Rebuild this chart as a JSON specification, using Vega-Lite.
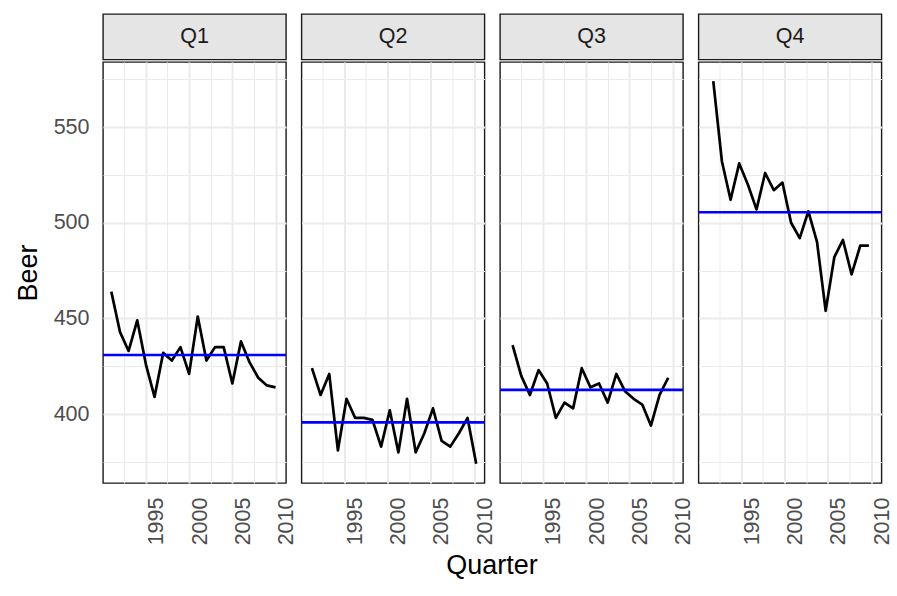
{
  "$schema": "https://vega.github.io/schema/vega-lite/v6.json",
  "padding": {"left": 14, "top": 13, "right": 5, "bottom": 5},
  "background": "white",
  "config": {
    "font": "Liberation Sans",
    "view": {"stroke": "#1A1A1A", "strokeWidth": 1.4},
    "axis": {
      "labelFont": "Liberation Sans",
      "labelFontSize": 21.5,
      "labelColor": "#4D4D4D",
      "titleFont": "Liberation Sans",
      "titleFontSize": 27,
      "titleFontWeight": "normal",
      "titleColor": "#000000",
      "ticks": false,
      "domain": false,
      "gridColor": "#EBEBEB"
    },
    "header": {
      "titleFont": "Liberation Sans",
      "titleFontSize": 27,
      "titleFontWeight": "normal",
      "titleColor": "#000000",
      "labelPadding": 0
    }
  },
  "datasets": {
    "strips": [{"q": "Q1"}, {"q": "Q2"}, {"q": "Q3"}, {"q": "Q4"}],
    "beer": [
      {"Quarter": "1991-01-01", "q": "Q1", "Beer": 464},
      {"Quarter": "1992-01-01", "q": "Q1", "Beer": 443},
      {"Quarter": "1993-01-01", "q": "Q1", "Beer": 433},
      {"Quarter": "1994-01-01", "q": "Q1", "Beer": 449},
      {"Quarter": "1995-01-01", "q": "Q1", "Beer": 426},
      {"Quarter": "1996-01-01", "q": "Q1", "Beer": 409},
      {"Quarter": "1997-01-01", "q": "Q1", "Beer": 432},
      {"Quarter": "1998-01-01", "q": "Q1", "Beer": 428},
      {"Quarter": "1999-01-01", "q": "Q1", "Beer": 435},
      {"Quarter": "2000-01-01", "q": "Q1", "Beer": 421},
      {"Quarter": "2001-01-01", "q": "Q1", "Beer": 451},
      {"Quarter": "2002-01-01", "q": "Q1", "Beer": 428},
      {"Quarter": "2003-01-01", "q": "Q1", "Beer": 435},
      {"Quarter": "2004-01-01", "q": "Q1", "Beer": 435},
      {"Quarter": "2005-01-01", "q": "Q1", "Beer": 416},
      {"Quarter": "2006-01-01", "q": "Q1", "Beer": 438},
      {"Quarter": "2007-01-01", "q": "Q1", "Beer": 427},
      {"Quarter": "2008-01-01", "q": "Q1", "Beer": 419},
      {"Quarter": "2009-01-01", "q": "Q1", "Beer": 415},
      {"Quarter": "2010-01-01", "q": "Q1", "Beer": 414},
      {"Quarter": "1991-04-01", "q": "Q2", "Beer": 424},
      {"Quarter": "1992-04-01", "q": "Q2", "Beer": 410},
      {"Quarter": "1993-04-01", "q": "Q2", "Beer": 421},
      {"Quarter": "1994-04-01", "q": "Q2", "Beer": 381},
      {"Quarter": "1995-04-01", "q": "Q2", "Beer": 408},
      {"Quarter": "1996-04-01", "q": "Q2", "Beer": 398},
      {"Quarter": "1997-04-01", "q": "Q2", "Beer": 398},
      {"Quarter": "1998-04-01", "q": "Q2", "Beer": 397},
      {"Quarter": "1999-04-01", "q": "Q2", "Beer": 383},
      {"Quarter": "2000-04-01", "q": "Q2", "Beer": 402},
      {"Quarter": "2001-04-01", "q": "Q2", "Beer": 380},
      {"Quarter": "2002-04-01", "q": "Q2", "Beer": 408},
      {"Quarter": "2003-04-01", "q": "Q2", "Beer": 380},
      {"Quarter": "2004-04-01", "q": "Q2", "Beer": 390},
      {"Quarter": "2005-04-01", "q": "Q2", "Beer": 403},
      {"Quarter": "2006-04-01", "q": "Q2", "Beer": 386},
      {"Quarter": "2007-04-01", "q": "Q2", "Beer": 383},
      {"Quarter": "2008-04-01", "q": "Q2", "Beer": 390},
      {"Quarter": "2009-04-01", "q": "Q2", "Beer": 398},
      {"Quarter": "2010-04-01", "q": "Q2", "Beer": 374},
      {"Quarter": "1991-07-01", "q": "Q3", "Beer": 436},
      {"Quarter": "1992-07-01", "q": "Q3", "Beer": 420},
      {"Quarter": "1993-07-01", "q": "Q3", "Beer": 410},
      {"Quarter": "1994-07-01", "q": "Q3", "Beer": 423},
      {"Quarter": "1995-07-01", "q": "Q3", "Beer": 416},
      {"Quarter": "1996-07-01", "q": "Q3", "Beer": 398},
      {"Quarter": "1997-07-01", "q": "Q3", "Beer": 406},
      {"Quarter": "1998-07-01", "q": "Q3", "Beer": 403},
      {"Quarter": "1999-07-01", "q": "Q3", "Beer": 424},
      {"Quarter": "2000-07-01", "q": "Q3", "Beer": 414},
      {"Quarter": "2001-07-01", "q": "Q3", "Beer": 416},
      {"Quarter": "2002-07-01", "q": "Q3", "Beer": 406},
      {"Quarter": "2003-07-01", "q": "Q3", "Beer": 421},
      {"Quarter": "2004-07-01", "q": "Q3", "Beer": 412},
      {"Quarter": "2005-07-01", "q": "Q3", "Beer": 408},
      {"Quarter": "2006-07-01", "q": "Q3", "Beer": 405},
      {"Quarter": "2007-07-01", "q": "Q3", "Beer": 394},
      {"Quarter": "2008-07-01", "q": "Q3", "Beer": 410},
      {"Quarter": "2009-07-01", "q": "Q3", "Beer": 419},
      {"Quarter": "1991-10-01", "q": "Q4", "Beer": 574},
      {"Quarter": "1992-10-01", "q": "Q4", "Beer": 532},
      {"Quarter": "1993-10-01", "q": "Q4", "Beer": 512},
      {"Quarter": "1994-10-01", "q": "Q4", "Beer": 531},
      {"Quarter": "1995-10-01", "q": "Q4", "Beer": 520},
      {"Quarter": "1996-10-01", "q": "Q4", "Beer": 507},
      {"Quarter": "1997-10-01", "q": "Q4", "Beer": 526},
      {"Quarter": "1998-10-01", "q": "Q4", "Beer": 517},
      {"Quarter": "1999-10-01", "q": "Q4", "Beer": 521},
      {"Quarter": "2000-10-01", "q": "Q4", "Beer": 500},
      {"Quarter": "2001-10-01", "q": "Q4", "Beer": 492},
      {"Quarter": "2002-10-01", "q": "Q4", "Beer": 506},
      {"Quarter": "2003-10-01", "q": "Q4", "Beer": 490},
      {"Quarter": "2004-10-01", "q": "Q4", "Beer": 454},
      {"Quarter": "2005-10-01", "q": "Q4", "Beer": 482},
      {"Quarter": "2006-10-01", "q": "Q4", "Beer": 491},
      {"Quarter": "2007-10-01", "q": "Q4", "Beer": 473},
      {"Quarter": "2008-10-01", "q": "Q4", "Beer": 488},
      {"Quarter": "2009-10-01", "q": "Q4", "Beer": 488}
    ]
  },
  "spacing": 0,
  "vconcat": [
    {
      "data": {"name": "strips"},
      "bounds": "flush",
      "facet": {"column": {"field": "q", "type": "nominal", "header": {"labels": false, "title": null, "labelOrient": "top"}}},
      "spacing": 15.5,
      "spec": {
        "width": 183,
        "height": 45.5,
        "view": {"fill": "#E5E5E5", "stroke": "#1A1A1A", "strokeWidth": 1.4},
        "mark": {"type": "text", "fontSize": 21.5, "color": "#1A1A1A", "font": "Liberation Sans"},
        "encoding": {"text": {"field": "q", "type": "nominal"}}
      }
    },
    {
      "data": {"name": "beer"},
      "bounds": "flush",
      "facet": {
        "column": {
          "field": "q",
          "type": "nominal",
          "title": "Quarter",
          "header": {"labels": false, "labelOrient": "bottom", "title": "Quarter", "titleOrient": "bottom", "titlePadding": -2}
        }
      },
      "spacing": 15.5,
      "spec": {
        "width": 183,
        "height": 421,
        "layer": [
          {
            "mark": {"type": "line", "color": "#000000", "strokeWidth": 2.7, "strokeJoin": "round"},
            "encoding": {
              "x": {
                "field": "Quarter",
                "type": "temporal",
                "title": null,
                "scale": {
                  "type": "utc",
                  "domain": [
                    {"year": 1990, "month": 1, "date": 15, "utc": true},
                    {"year": 2011, "month": 3, "date": 18, "utc": true}
                  ]
                },
                "axis": {
                  "values": [
                    {"year": 1992, "month": 7, "date": 2, "utc": true},
                    {"year": 1995, "month": 1, "date": 1, "utc": true},
                    {"year": 1997, "month": 7, "date": 2, "utc": true},
                    {"year": 2000, "month": 1, "date": 1, "utc": true},
                    {"year": 2002, "month": 7, "date": 2, "utc": true},
                    {"year": 2005, "month": 1, "date": 1, "utc": true},
                    {"year": 2007, "month": 7, "date": 2, "utc": true},
                    {"year": 2010, "month": 1, "date": 1, "utc": true}
                  ],
                  "labelExpr": "utcmonth(datum.value) == 0 ? utcFormat(datum.value, '%Y') : ''",
                  "labelAngle": 270,
                  "labelAlign": "right",
                  "labelBaseline": "top",
                  "labelPadding": 14,
                  "labelOverlap": false,
                  "gridWidth": {"condition": {"test": "utcmonth(datum.value) == 0", "value": 2}, "value": 1}
                }
              },
              "y": {
                "field": "Beer",
                "type": "quantitative",
                "title": "Beer",
                "scale": {"domain": [364, 584], "nice": false, "zero": false},
                "axis": {
                  "values": [375, 400, 425, 450, 475, 500, 525, 550, 575],
                  "labelExpr": "datum.value % 50 == 0 ? datum.label : ''",
                  "labelPadding": 14,
                  "titlePadding": 11,
                  "gridWidth": {"condition": {"test": "datum.value % 50 == 0", "value": 2}, "value": 1}
                }
              }
            }
          },
          {
            "mark": {"type": "rule", "color": "#0000FF", "strokeWidth": 2.7},
            "encoding": {
              "y": {"aggregate": "mean", "field": "Beer", "type": "quantitative", "title": "Beer"}
            }
          }
        ]
      }
    }
  ]
}
